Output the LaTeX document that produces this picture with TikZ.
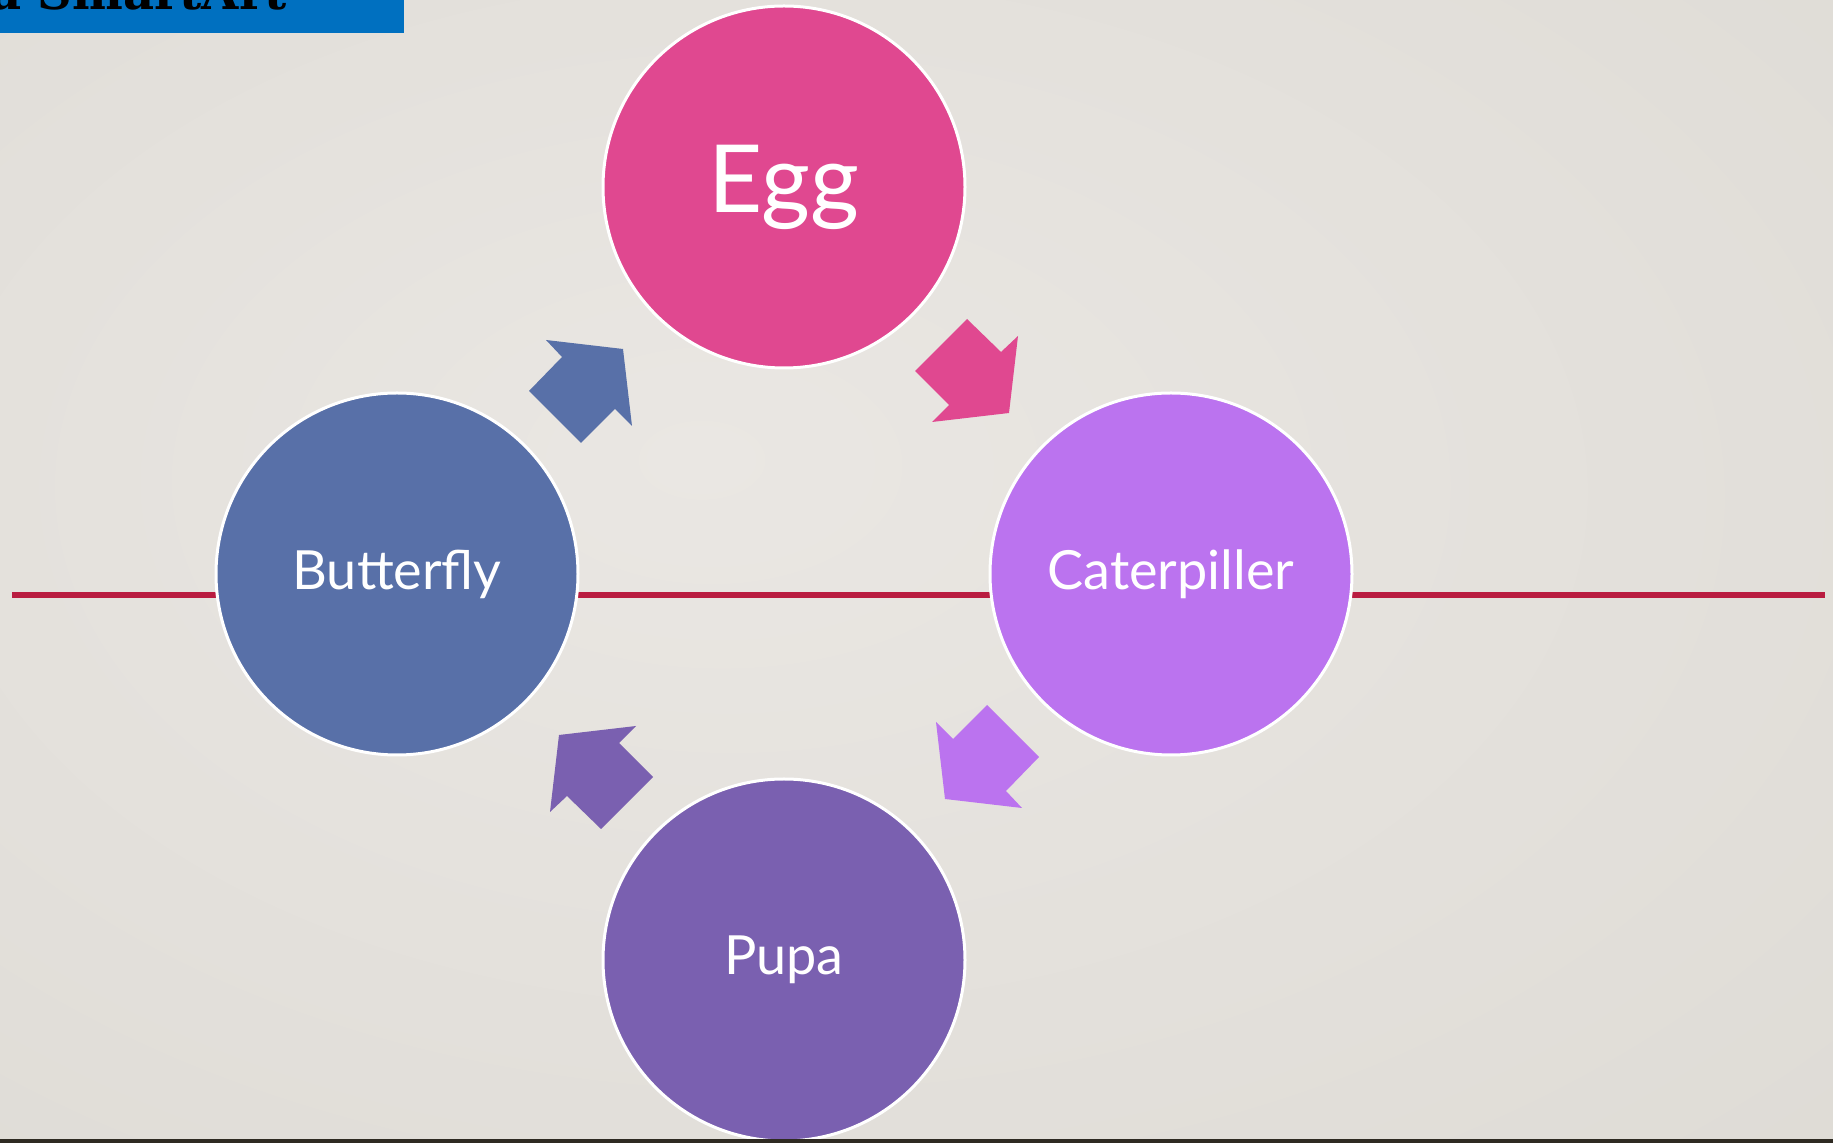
\documentclass[tikz,border=0pt]{standalone}
\usepackage{fontspec}
\setmainfont{Lato}
\newfontfamily\titlefont{DejaVu Serif}
\usetikzlibrary{positioning,calc}

\definecolor{eggpink}{RGB}{224,72,144}
\definecolor{catlilac}{RGB}{187,115,239}
\definecolor{pupapurple}{RGB}{122,96,176}
\definecolor{butterblue}{RGB}{88,112,168}
\definecolor{redline}{RGB}{185,28,64}
\definecolor{titleblue}{RGB}{0,112,192}
\definecolor{bginner}{RGB}{234,231,227}
\definecolor{bgouter}{RGB}{221,218,212}
\definecolor{bgcorner}{RGB}{208,204,198}
\definecolor{bottomstrip}{RGB}{46,42,34}

\pgfdeclareradialshading{slidebg}{\pgfpoint{-6bp}{5bp}}{%
  color(0bp)=(bginner); color(45bp)=(bgouter); color(75bp)=(bgcorner)}

\begin{document}
\begin{tikzpicture}[
    x=0.5pt, y=-0.5pt,
    stage/.style={circle, draw=white, line width=1.5pt, minimum size=181pt, inner sep=0pt,
        text=white, font=\fontsize{27}{29}\selectfont},
    cycarrow/.style={draw=none}
]
    % Page and background
    \useasboundingbox (0,0) rectangle (1833,1143);
    \clip (0,0) rectangle (1833,1143);
    \shade[shading=slidebg] (0,0) rectangle (1833,1143);

    % Title bar (cut at the top)
    \node[fill=titleblue, anchor=north west, minimum width=202pt, minimum height=16.5pt, inner sep=0pt] (titlebar) at (0,0) {};
    \node[anchor=base east, inner sep=0pt, font=\titlefont\bfseries\fontsize{24}{26}\selectfont] (title) at (287,10) {a SmartArt};

    % Red line behind the circles
    \coordinate (lineL) at (12,595);
    \coordinate (lineR) at (1825,595);
    \draw[redline, line width=3pt] (lineL) -- (lineR);

    % Stages
    \node[stage, fill=eggpink, font=\fontsize{47}{49}\selectfont] (egg) at (784,187) {Egg};
    \node[stage, fill=catlilac] (cater) at ($(egg)+(387,387)$) {Caterpiller};
    \node[stage, fill=butterblue] (butterfly) at ($(egg)+(-387,387)$) {Butterfly};
    \node[stage, fill=pupapurple] (pupa) at ($(egg)+(0,773)$) {Pupa};
    \coordinate (ctr) at (egg |- cater);

    % Arrows between stages
    \foreach \ang/\col in {0/eggpink, -90/catlilac, -180/pupapurple, -270/butterblue}
        \fill[cycarrow, \col, shift={(ctr)}, rotate=\ang]
            (183,-255) -- (217,-222) -- (234,-238) -- (225,-161)
            -- (148,-152) -- (165,-169) -- (131,-203) -- cycle;

    % Bottom edge
    \fill[bottomstrip] (0,1139) rectangle (1833,1143);
\end{tikzpicture}
\end{document}
